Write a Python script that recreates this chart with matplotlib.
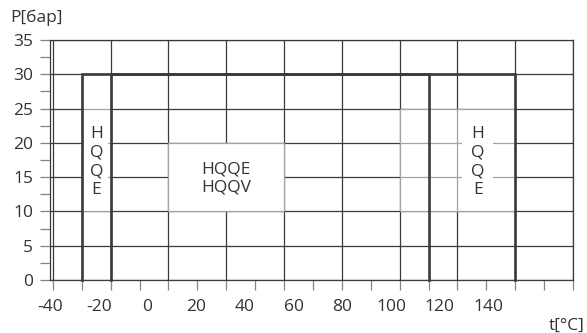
import matplotlib
matplotlib.use('Agg')
import matplotlib.pyplot as plt
import numpy as np
from matplotlib.patches import Rectangle

plt.rcParams['font.family'] = ['Open Sans', 'DejaVu Sans']

# ---- data ----
t_tick_marks = list(range(-40, 141, 10))
t_labels = ['-40', '-20', '0', '20', '40', '60', '80', '100', '120', '140']
p_ticks = [0, 5, 10, 15, 20, 25, 30, 35]
p_labels = ['0', '5', '10', '15', '20', '25', '30', '35']
p_minor = [2.5, 7.5, 12.5, 17.5, 22.5, 27.5, 32.5]
grid_t = [-40, -20, 0, 20, 40, 60, 80, 100, 120, 140]
grid_p = [0, 5, 10, 15, 20, 25, 30, 35]
hqqe_range = [-30, 120]   # °C
hqqv_range = [-20, 90]    # °C
p_max = 30                # bar

DARK = '#3a3a3a'
LIGHT = '#a3a3a3'
TICK = '#858585'
TXT = '#333333'

fig = plt.figure(figsize=(5.87, 3.33), dpi=100)
W, H = 587, 333
ax = fig.add_axes([50 / W, 53 / H, 523 / W, 240 / H])
ax.set_xlim(-40, 140)
ax.set_ylim(0, 35)

# grid
for t in grid_t:
    ax.axvline(t, color=DARK, lw=0.9, zorder=1)
for p in grid_p:
    ax.axhline(p, color=DARK, lw=0.9, zorder=1)

# light label regions
ax.add_patch(Rectangle((hqqe_range[0], 10), hqqv_range[0] - hqqe_range[0], 20,
                       fc='white', ec=LIGHT, lw=0.9, zorder=2))
for p in [15, 20, 25]:
    ax.plot([hqqe_range[0], hqqv_range[0]], [p, p], color=LIGHT, lw=0.9, zorder=2.1)

ax.add_patch(Rectangle((80, 10), hqqe_range[1] - 80, 15,
                       fc='white', ec=LIGHT, lw=0.9, zorder=2))
for p in [15, 20]:
    ax.plot([80, hqqe_range[1]], [p, p], color=LIGHT, lw=0.9, zorder=2.1)
ax.plot([100, 100], [10, 25], color=LIGHT, lw=0.9, zorder=2.1)

ax.add_patch(Rectangle((0, 10), 40, 10, fc='white', ec=LIGHT, lw=0.9, zorder=2))

# labels
bb = dict(boxstyle='square,pad=0.5', fc='white', ec='none')
ax.text((hqqe_range[0] + hqqv_range[0]) / 2, 17.2, 'H\nQ\nQ\nE', ha='center', va='center',
        fontsize=12.5, color=TXT, linespacing=1.2, zorder=3,
        bbox=dict(boxstyle='square,pad=0.3', fc='white', ec='none'))
ax.text(107, 17.2, 'H\nQ\nQ\nE', ha='center', va='center',
        fontsize=12.5, color=TXT, linespacing=1.2, zorder=3, bbox=bb)
ax.text(20, 14.8, 'HQQE\nHQQV', ha='center', va='center',
        fontsize=12.5, color=TXT, linespacing=1.2, zorder=3)

# operating range outlines
for rng in (hqqe_range, hqqv_range):
    ax.plot([rng[0], rng[0], rng[1], rng[1]], [0, p_max, p_max, 0],
            color=DARK, lw=1.9, zorder=5, solid_joinstyle='miter', clip_on=False)

# ticks
label_pos = np.linspace(-41, 110.7, len(t_labels))
ax.set_xticks(t_tick_marks, minor=True)
ax.set_xticks(label_pos, t_labels)
ax.tick_params(axis='x', which='major', length=0, pad=14, labelsize=12.5, labelcolor=TXT)
ax.tick_params(axis='x', which='minor', length=7.2, width=0.9, color=TICK)
ax.set_yticks(p_ticks, p_labels)
ax.set_yticks(p_minor, minor=True)
ax.tick_params(axis='y', which='both', length=7.2, width=0.9, color=TICK, pad=5,
               labelsize=12.5, labelcolor=TXT)

for s in ax.spines.values():
    s.set_color(DARK)
    s.set_linewidth(0.9)
    s.set_zorder(6)

fig.text(10 / W, 1 - 18 / H, 'P[бар]', ha='left', va='center', fontsize=12.5, color=TXT)
fig.text(585 / W, 1 - 326 / H, 't[°C]', ha='right', va='center', fontsize=12.5, color=TXT)

fig.savefig('out.png', dpi=100)
